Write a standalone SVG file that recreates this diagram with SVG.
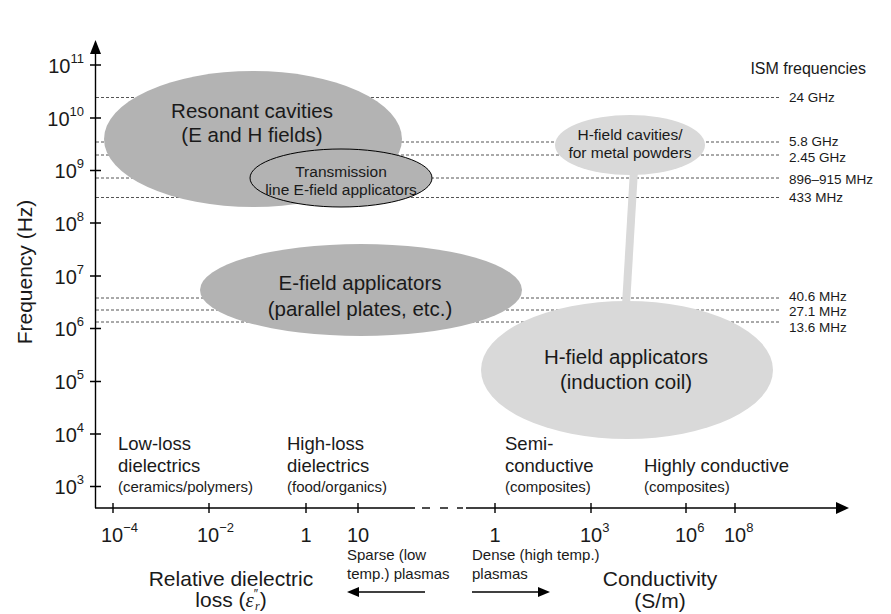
<svg xmlns="http://www.w3.org/2000/svg" width="891" height="614" viewBox="0 0 891 614">
  <style>
    text { font-family: "Liberation Sans", Arial, sans-serif; fill: #1a1a1a; }
    .ax { stroke: #000; stroke-width: 1.4; fill: none; }
    .ism { stroke: #555; stroke-width: 1; stroke-dasharray: 3 2; fill: none; }
    .dark { fill: #b3b3b3; }
    .light { fill: #d9d9d9; }
    .big { font-size: 20.5px; }
    .mid { font-size: 18.5px; }
    .sm { font-size: 15px; }
    .frq { font-size: 13.5px; }
    .tl { font-size: 20px; }
    .sup { font-size: 13px; }
  </style>

  <rect width="891" height="614" fill="#fff"/>

  <!-- ISM frequency guide lines -->
  <g id="ism-lines">
    <line class="ism" x1="96" y1="97.5" x2="779" y2="97.5"/>
    <line class="ism" x1="96" y1="142" x2="779" y2="142"/>
    <line class="ism" x1="96" y1="155" x2="779" y2="155"/>
    <line class="ism" x1="96" y1="178" x2="779" y2="178"/>
    <line class="ism" x1="96" y1="197.5" x2="779" y2="197.5"/>
    <line class="ism" x1="96" y1="298" x2="779" y2="298"/>
    <line class="ism" x1="96" y1="310" x2="779" y2="310"/>
    <line class="ism" x1="96" y1="322" x2="779" y2="322"/>
  </g>
  <g id="ism-labels" class="frq">
    <text x="789" y="102">24 GHz</text>
    <text x="789" y="146">5.8 GHz</text>
    <text x="789" y="162">2.45 GHz</text>
    <text x="789" y="184">896–915 MHz</text>
    <text x="789" y="202">433 MHz</text>
    <text x="789" y="301">40.6 MHz</text>
    <text x="789" y="316">27.1 MHz</text>
    <text x="789" y="332">13.6 MHz</text>
    <text x="866" y="74" font-size="16" text-anchor="end">ISM frequencies</text>
  </g>

  <!-- applicator regions -->
  <g id="resonant-cavities">
    <ellipse class="dark" cx="253" cy="139" rx="149" ry="68"/>
    <text class="big" x="252" y="118" text-anchor="middle">Resonant cavities</text>
    <text class="big" x="252" y="142" text-anchor="middle">(E and H fields)</text>
  </g>
  <g id="transmission-line">
    <ellipse class="dark" cx="341" cy="178" rx="91" ry="29" stroke="#000" stroke-width="1"/>
    <text x="341" y="177" text-anchor="middle" font-size="15.5">Transmission</text>
    <text x="341" y="195" text-anchor="middle" font-size="15.5">line E-field applicators</text>
  </g>
  <g id="e-field-applicators">
    <ellipse class="dark" cx="361" cy="290" rx="161" ry="46"/>
    <text class="big" x="360" y="290" text-anchor="middle">E-field applicators</text>
    <text class="big" x="360" y="316" text-anchor="middle">(parallel plates, etc.)</text>
  </g>

  <!-- link between the two H-field regions -->
  <g id="connectors">
    <polygon class="light" points="630,170 638,170 630,305 622,305"/>
  </g>

  <g id="h-field-cavities">
    <ellipse class="light" cx="630" cy="145" rx="75" ry="30"/>
    <text x="630" y="140" text-anchor="middle" font-size="15.5">H-field cavities/</text>
    <text x="630" y="158" text-anchor="middle" font-size="15.5">for metal powders</text>
  </g>
  <g id="h-field-applicators">
    <ellipse class="light" cx="627" cy="370" rx="146" ry="69"/>
    <text class="big" x="626" y="364" text-anchor="middle">H-field applicators</text>
    <text class="big" x="626" y="389" text-anchor="middle">(induction coil)</text>
  </g>

  <!-- material classes -->
  <g id="material-labels">
    <text class="mid" x="118" y="450">Low-loss</text>
    <text class="mid" x="118" y="472">dielectrics</text>
    <text class="sm" x="118" y="492">(ceramics/polymers)</text>
    <text class="mid" x="287" y="450">High-loss</text>
    <text class="mid" x="287" y="472">dielectrics</text>
    <text class="sm" x="287" y="492">(food/organics)</text>
    <text class="mid" x="505" y="450">Semi-</text>
    <text class="mid" x="505" y="472">conductive</text>
    <text class="sm" x="505" y="492">(composites)</text>
    <text class="mid" x="644" y="472">Highly conductive</text>
    <text class="sm" x="644" y="492">(composites)</text>
  </g>

  <!-- axes -->
  <g id="axes">
    <line class="ax" x1="95.5" y1="508" x2="95.5" y2="52"/>
    <polygon points="95.5,40 90,54 101,54" fill="#000"/>
    <line class="ax" x1="95" y1="508" x2="415" y2="508"/>
    <line class="ax" x1="422" y1="508" x2="430" y2="508"/>
    <line class="ax" x1="440" y1="508" x2="448" y2="508"/>
    <line class="ax" x1="457" y1="508" x2="463" y2="508"/>
    <line class="ax" x1="466" y1="508" x2="838" y2="508"/>
    <polygon points="849,508 836,502 836,514" fill="#000"/>

    <!-- frequency ticks -->
    <path class="ax" d="M90,65H101M90,118H101M90,170.5H101M90,223H101M90,276H101M90,328.5H101M90,381.5H101M90,434H101M90,486.5H101"/>
    <!-- loss / conductivity ticks -->
    <path class="ax" d="M113,503V513M209,503V513M306,503V513M358,503V513M495,503V513M591,503V513M686,503V513M735,503V513"/>
  </g>

  <!-- frequency tick labels -->
  <g id="freq-ticks" class="tl" text-anchor="end">
    <text x="84" y="72.5">10<tspan class="sup" dy="-10">11</tspan></text>
    <text x="84" y="125.5">10<tspan class="sup" dy="-10">10</tspan></text>
    <text x="84" y="178">10<tspan class="sup" dy="-10">9</tspan></text>
    <text x="84" y="230.5">10<tspan class="sup" dy="-10">8</tspan></text>
    <text x="84" y="283.5">10<tspan class="sup" dy="-10">7</tspan></text>
    <text x="84" y="336">10<tspan class="sup" dy="-10">6</tspan></text>
    <text x="84" y="389">10<tspan class="sup" dy="-10">5</tspan></text>
    <text x="84" y="441.5">10<tspan class="sup" dy="-10">4</tspan></text>
    <text x="84" y="494">10<tspan class="sup" dy="-10">3</tspan></text>
  </g>

  <!-- horizontal tick labels -->
  <g id="x-ticks" class="tl">
    <text x="101" y="542">10<tspan class="sup" dy="-10">−4</tspan></text>
    <text x="197" y="542">10<tspan class="sup" dy="-10">−2</tspan></text>
    <text x="306" y="542" text-anchor="middle">1</text>
    <text x="358" y="542" text-anchor="middle">10</text>
    <text x="495" y="542" text-anchor="middle">1</text>
    <text x="580" y="542">10<tspan class="sup" dy="-10">3</tspan></text>
    <text x="675" y="542">10<tspan class="sup" dy="-10">6</tspan></text>
    <text x="724" y="542">10<tspan class="sup" dy="-10">8</tspan></text>
  </g>

  <!-- axis titles -->
  <g id="axis-titles">
    <text font-size="21" transform="translate(32,272) rotate(-90)" text-anchor="middle">Frequency (Hz)</text>
    <text font-size="21" x="231" y="586" text-anchor="middle">Relative dielectric</text>
    <text font-size="21" x="231" y="607" text-anchor="middle">loss (<tspan font-family="Liberation Serif" font-style="italic">ε</tspan><tspan font-size="12" dy="-9">″</tspan><tspan font-family="Liberation Serif" font-style="italic" font-size="12" dx="-3" dy="12">r</tspan><tspan dy="-3">)</tspan></text>
    <text font-size="21" x="660" y="586" text-anchor="middle">Conductivity</text>
    <text font-size="21" x="660" y="608" text-anchor="middle">(S/m)</text>
  </g>

  <!-- plasma regimes -->
  <g id="plasma-labels" class="sm">
    <text x="347" y="560">Sparse (low</text>
    <text x="347" y="579">temp.) plasmas</text>
    <text x="472" y="560">Dense (high temp.)</text>
    <text x="472" y="579">plasmas</text>
  </g>
  <g id="plasma-arrows">
    <line class="ax" x1="425" y1="592" x2="358" y2="592"/>
    <polygon points="347,592 359,587 359,597" fill="#000"/>
    <line class="ax" x1="472" y1="592" x2="539" y2="592"/>
    <polygon points="550,592 538,587 538,597" fill="#000"/>
  </g>
</svg>
